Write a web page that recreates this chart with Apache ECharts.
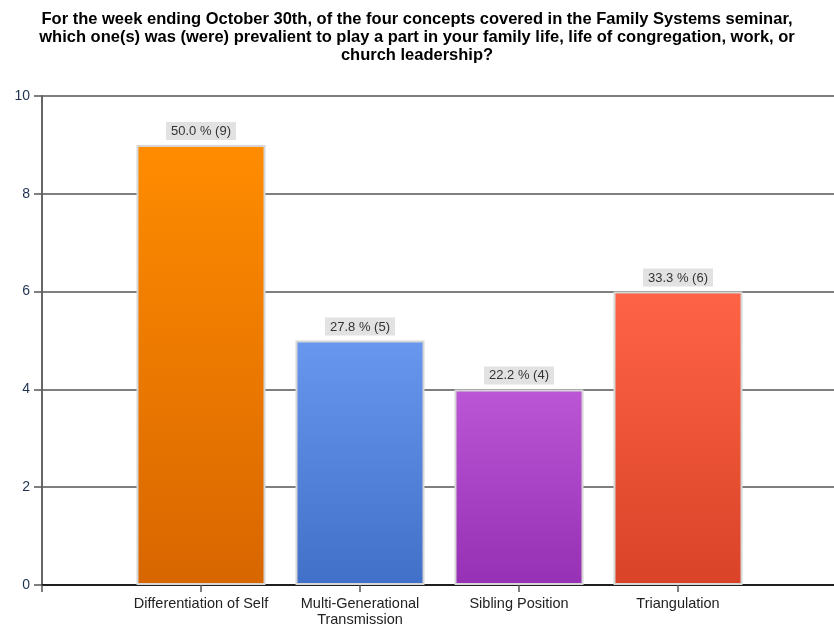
<!DOCTYPE html>
<html>
<head>
<meta charset="utf-8">
<script src="https://cdn.jsdelivr.net/npm/echarts@6/dist/echarts.min.js"></script>
<style>
  html, body { margin: 0; padding: 0; background: #fff; }
  #chart { width: 834px; height: 625px; }
</style>
</head>
<body>
<div id="chart"></div>
<script>
// Survey responses per concept
const categories = ['Differentiation of Self', 'Multi-Generational\nTransmission', 'Sibling Position', 'Triangulation'];
const counts = [9, 5, 4, 6];
const percents = ['50.0', '27.8', '22.2', '33.3'];
const yTicks = [0, 2, 4, 6, 8, 10];

const titleText = 'For the week ending October 30th, of the four concepts covered in the Family Systems seminar,\nwhich one(s) was (were) prevalient to play a part in your family life, life of congregation, work, or\nchurch leadership?';

// top / bottom colours of each bar's vertical gradient
const barColors = [
  ['#ff8c00', '#d86600'],
  ['#6797ee', '#4170c8'],
  ['#bb56d6', '#9630b4'],
  ['#ff6347', '#d94327']
];

// pad the axis with an empty slot at each end so bars sit on evenly spaced ticks
const axisCats = [''].concat(categories, ['']);
const seriesData = [null].concat(counts.map((v, i) => ({
  value: v,
  itemStyle: {
    color: new echarts.graphic.LinearGradient(0, 0, 0, 1, [
      { offset: 0, color: barColors[i][0] },
      { offset: 1, color: barColors[i][1] }
    ])
  },
  label: { formatter: percents[i] + ' % (' + v + ')' }
})), [null]);

const chart = echarts.init(document.getElementById('chart'), null, { renderer: 'canvas' });
chart.setOption({
  animation: false,
  backgroundColor: '#ffffff',
  title: {
    text: titleText,
    left: 'center',
    top: 5,
    textStyle: {
      fontFamily: 'Liberation Sans, Arial, sans-serif',
      fontSize: 16.5,
      fontWeight: 'bold',
      color: '#000',
      lineHeight: 18,
      align: 'center'
    }
  },
  grid: {
    left: 42, width: 795, top: 96, bottom: 40,
    containLabel: false,
    outerBoundsMode: 'none'
  },
  xAxis: {
    type: 'category',
    data: axisCats,
    boundaryGap: false,
    axisLine: { lineStyle: { color: '#000', width: 1.5 } },
    axisTick: { show: true, length: 7, lineStyle: { color: '#555', width: 1.5 } },
    axisLabel: {
      interval: 0,
      margin: 11,
      fontFamily: 'Liberation Sans, Arial, sans-serif',
      fontSize: 14.5,
      color: '#222',
      lineHeight: 16
    },
    splitLine: { show: false }
  },
  yAxis: {
    type: 'value',
    min: yTicks[0],
    max: yTicks[yTicks.length - 1],
    interval: 2,
    axisLine: { show: true, lineStyle: { color: '#666', width: 2 } },
    axisTick: { show: true, length: 8, lineStyle: { color: '#555', width: 1.5 } },
    axisLabel: {
      margin: 12,
      fontFamily: 'Liberation Sans, Arial, sans-serif',
      fontSize: 14,
      color: '#1e3250'
    },
    splitLine: { show: true, lineStyle: { color: '#555', width: 1.5 } }
  },
  series: [{
    type: 'bar',
    data: seriesData,
    barWidth: 129,
    itemStyle: { borderColor: '#d6d6d6', borderWidth: 2 },
    label: {
      show: true,
      position: 'top',
      distance: 5,
      backgroundColor: '#e2e2e2',
      padding: [3, 5, 2, 5],
      fontFamily: 'Liberation Sans, Arial, sans-serif',
      fontSize: 13,
      color: '#333'
    }
  }]
});
</script>
</body>
</html>
